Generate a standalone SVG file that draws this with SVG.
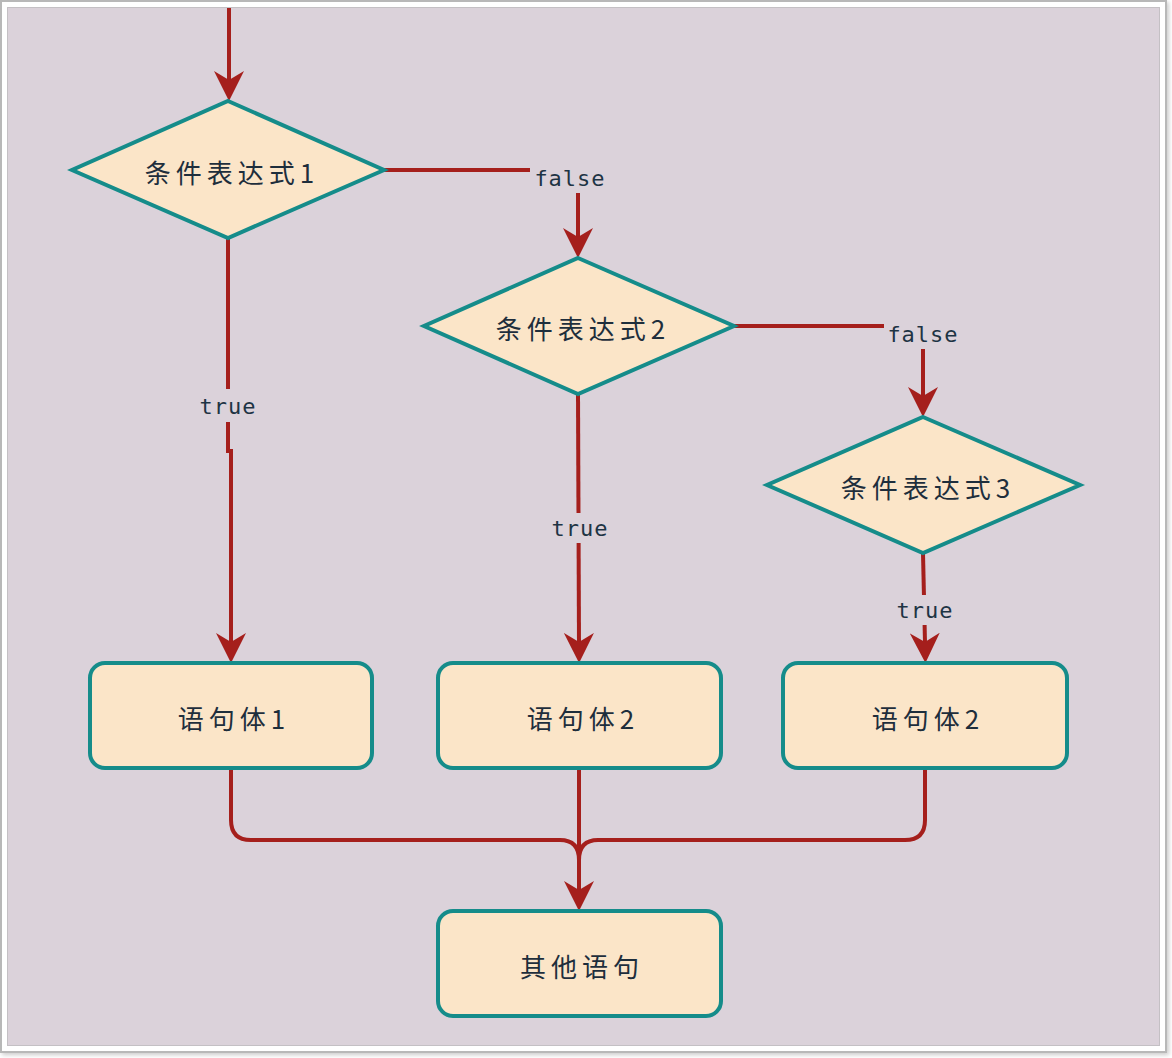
<svg xmlns="http://www.w3.org/2000/svg" width="1172" height="1058" viewBox="0 0 1172 1058">
<defs>
<marker id="arr" viewBox="0 0 30 30" markerWidth="30" markerHeight="30" refX="10" refY="15" orient="auto" markerUnits="userSpaceOnUse">
<path d="M0,0 L30,15 L0,30 L9,15 z" fill="#A51F1C"/>
</marker>
<filter id="sh" x="-2%" y="-2%" width="104%" height="104%">
<feDropShadow dx="2" dy="2" stdDeviation="2" flood-color="#000" flood-opacity="0.2"/>
</filter>
</defs>
<style>
.node{fill:#FBE5C8;stroke:#158C8A;stroke-width:4}
.t{font-family:"Noto Sans CJK SC","Noto Sans",sans-serif;font-size:26px;letter-spacing:5px;fill:#1E2E3C;text-anchor:middle;dominant-baseline:central}
.lbl{font-family:"DejaVu Sans Mono","Liberation Mono",monospace;font-size:22px;letter-spacing:1px;fill:#1E3444;text-anchor:middle;dominant-baseline:central}
.lb{fill:#DBD2DA}
.c{fill:none;stroke:#A51F1C;stroke-width:4}
</style>
<rect x="1" y="1" width="1165" height="1051" fill="#FFFFFF" stroke="#B8B8B8" stroke-width="2" filter="url(#sh)"/>
<rect x="7.5" y="7.5" width="1152" height="1038" fill="#DBD2DA" stroke="#C4C0C4" stroke-width="1"/>

<g id="connectors">
<path class="c" d="M229,8 V81" marker-end="url(#arr)"/>
<path class="c" d="M384,170 H578 V238" marker-end="url(#arr)"/>
<path class="c" d="M228,238 V451 H231 V643" marker-end="url(#arr)"/>
<path class="c" d="M734,326 H923 V397" marker-end="url(#arr)"/>
<path class="c" d="M578,394 L579,643" marker-end="url(#arr)"/>
<path class="c" d="M923,553 L925,643" marker-end="url(#arr)"/>
<path class="c" d="M231,768 V820 Q231,840 251,840 H560 Q579,840 579,860"/>
<path class="c" d="M925,768 V820 Q925,840 905,840 H598 Q579,840 579,860"/>
<path class="c" d="M579,768 V891" marker-end="url(#arr)"/>
<rect class="lb" x="530" y="164" width="80" height="29"/>
<text class="lbl" x="570" y="178">false</text>
<rect class="lb" x="884" y="320" width="80" height="29"/>
<text class="lbl" x="923" y="334">false</text>
<rect class="lb" x="196" y="389" width="64" height="33"/>
<text class="lbl" x="228" y="406">true</text>
<rect class="lb" x="548" y="513" width="64" height="30"/>
<text class="lbl" x="580" y="528">true</text>
<rect class="lb" x="892" y="595" width="64" height="30"/>
<text class="lbl" x="925" y="610">true</text>
</g>

<g id="cond1">
<polygon class="node" points="228,101 384,170 228,238 72,170"/>
<text class="t" x="232" y="171">条件表达式1</text>
</g>
<g id="cond2">
<polygon class="node" points="578,258 734,326 578,394 424,326"/>
<text class="t" x="583" y="327">条件表达式2</text>
</g>
<g id="cond3">
<polygon class="node" points="923,417 1080,485 923,553 767,485"/>
<text class="t" x="928" y="486">条件表达式3</text>
</g>
<g id="body1">
<rect class="node" x="90" y="663" width="282" height="105" rx="15"/>
<text class="t" x="234" y="717">语句体1</text>
</g>
<g id="body2">
<rect class="node" x="438" y="663" width="283" height="105" rx="15"/>
<text class="t" x="583" y="717">语句体2</text>
</g>
<g id="body3">
<rect class="node" x="783" y="663" width="284" height="105" rx="15"/>
<text class="t" x="928" y="717">语句体2</text>
</g>
<g id="other">
<rect class="node" x="438" y="911" width="283" height="105" rx="15"/>
<text class="t" x="582" y="965">其他语句</text>
</g>
</svg>
